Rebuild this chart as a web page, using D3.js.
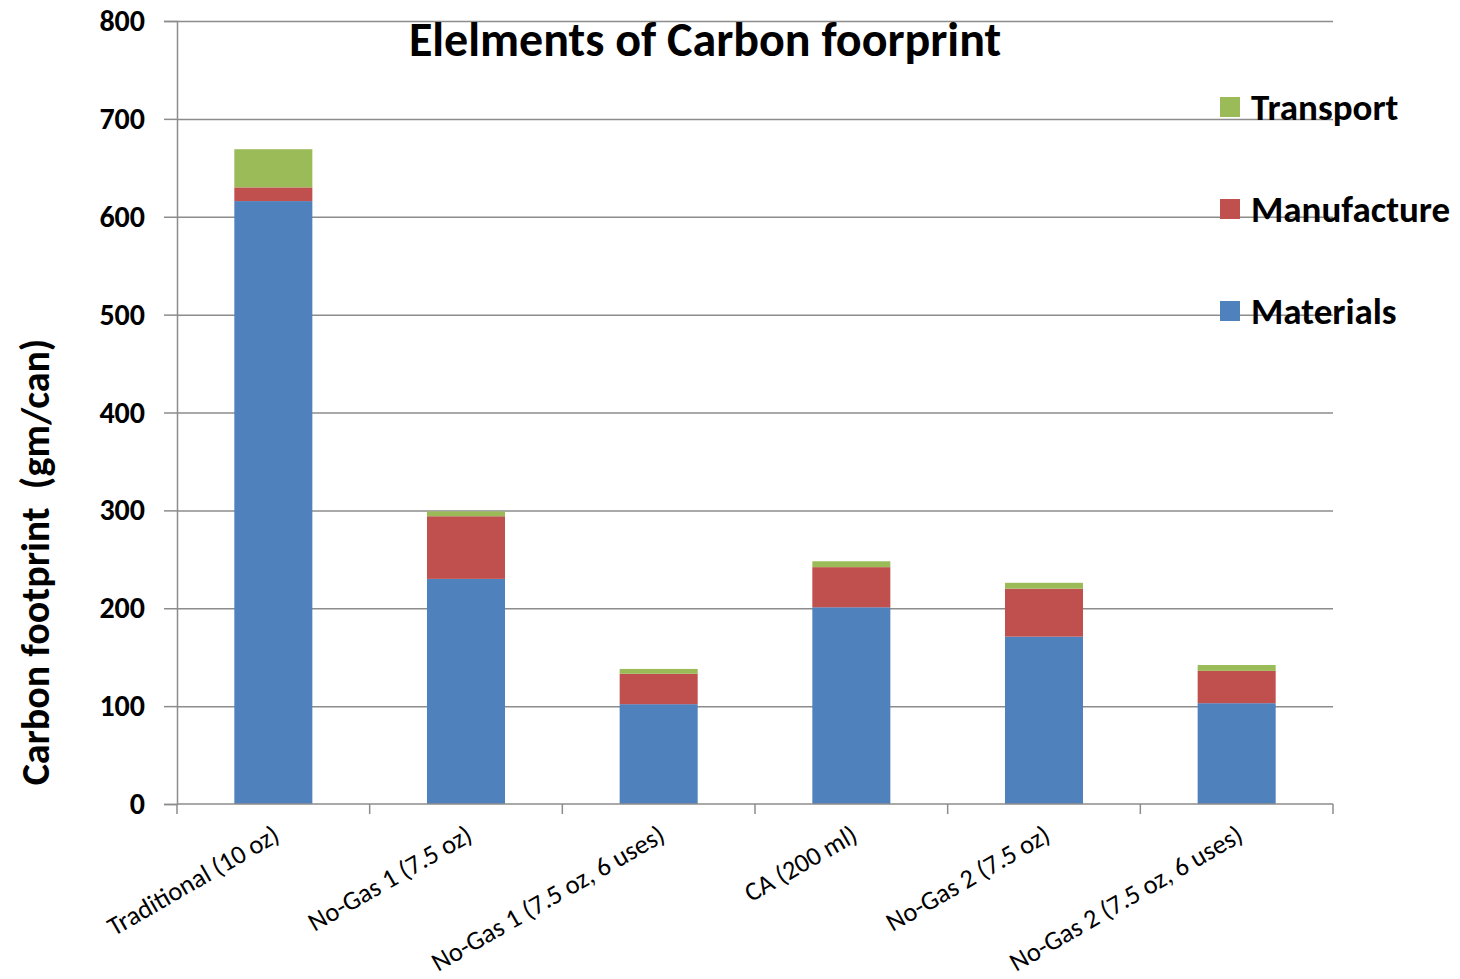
<!DOCTYPE html>
<html>
<head>
<meta charset="utf-8">
<script src="https://cdn.jsdelivr.net/npm/d3@7.9.0/dist/d3.min.js"></script>
<style>
  body { margin: 0; background: #fff; }
  svg { display: block; font-family: Carlito, "Open Sans", "Noto Sans", sans-serif; }
  .grid line { stroke: #8c8c8c; stroke-width: 1.5; }
  .grid path { display: none; }
</style>
</head>
<body>
<div id="chart"></div>
<script>
// chart values
const categories = [
  'Traditional (10 oz)',
  'No-Gas 1 (7.5 oz)',
  'No-Gas 1 (7.5 oz, 6 uses)',
  'CA (200 ml)',
  'No-Gas 2 (7.5 oz)',
  'No-Gas 2 (7.5 oz, 6 uses)'
];
const materials = [616, 230, 102, 201, 171, 103];
const manufacture = [14, 64, 31, 41, 49, 33];
const transport = [39, 5, 5, 6, 6, 6];
const seriesNames = ['Materials', 'Manufacture', 'Transport'];
const seriesColors = ['#4f81bd', '#c0504d', '#9bbb59'];
const yTicks = [0, 100, 200, 300, 400, 500, 600, 700, 800];

const width = 1460, height = 979;
const plot = { left: 177, right: 1333, top: 21, bottom: 804 };

const rows = categories.map((c, i) => ({
  category: c,
  Materials: materials[i],
  Manufacture: manufacture[i],
  Transport: transport[i]
}));

const stacked = d3.stack().keys(seriesNames)(rows);

const svg = d3.select('#chart').append('svg')
  .attr('width', width)
  .attr('height', height);

const x = d3.scaleBand()
  .domain(categories)
  .range([plot.left, plot.right])
  .paddingInner(0.595)
  .paddingOuter(0.2975);

const y = d3.scaleLinear()
  .domain([0, 800])
  .range([plot.bottom, plot.top]);

const color = d3.scaleOrdinal().domain(seriesNames).range(seriesColors);

// Gridlines
svg.append('g')
  .attr('class', 'grid')
  .attr('transform', `translate(${plot.left},0)`)
  .call(d3.axisLeft(y).tickValues(yTicks.slice(1)).tickFormat('').tickSize(-(plot.right - plot.left)));

// Bars
svg.append('g')
  .selectAll('g')
  .data(stacked)
  .join('g')
  .attr('fill', d => color(d.key))
  .selectAll('rect')
  .data(d => d)
  .join('rect')
  .attr('x', d => x(d.data.category))
  .attr('width', x.bandwidth())
  .attr('y', d => y(d[1]))
  .attr('height', d => y(d[0]) - y(d[1]));

// Y axis
const yAxis = svg.append('g')
  .attr('transform', `translate(${plot.left},0)`)
  .call(d3.axisLeft(y).tickValues(yTicks).tickSize(13).tickPadding(19));
yAxis.select('.domain').attr('stroke', '#8c8c8c').attr('stroke-width', 1.5);
yAxis.selectAll('.tick line').attr('stroke', '#8c8c8c').attr('stroke-width', 1.5);
yAxis.selectAll('.tick text')
  .attr('font-size', 30)
  .attr('font-weight', 'bold')
  .attr('fill', '#000')
  .style('font-family', 'Carlito, "Open Sans", sans-serif');

// X axis line and ticks at category boundaries
const step = x.step();
const boundaries = d3.range(categories.length + 1).map(i => plot.left + i * step);
const xAxis = svg.append('g');
xAxis.append('line')
  .attr('x1', plot.left).attr('x2', plot.right)
  .attr('y1', plot.bottom).attr('y2', plot.bottom)
  .attr('stroke', '#8c8c8c').attr('stroke-width', 1.5);
xAxis.selectAll('line.tick')
  .data(boundaries)
  .join('line')
  .attr('class', 'tick')
  .attr('x1', d => d).attr('x2', d => d)
  .attr('y1', plot.bottom).attr('y2', plot.bottom + 10)
  .attr('stroke', '#8c8c8c').attr('stroke-width', 1.5);

xAxis.selectAll('text')
  .data(categories)
  .join('text')
  .attr('transform', d => `translate(${x(d) + x.bandwidth() / 2 + 8},${plot.bottom + 36}) rotate(-30)`)
  .attr('text-anchor', 'end')
  .attr('font-size', 26.5)
  .attr('fill', '#000')
  .text(d => d);

// Title
svg.append('text')
  .attr('x', 705)
  .attr('y', 56)
  .attr('text-anchor', 'middle')
  .attr('font-size', 48)
  .attr('font-weight', 'bold')
  .text('Elelments of Carbon foorprint');

// Y axis title
svg.append('text')
  .attr('transform', 'translate(49,562) rotate(-90)')
  .attr('text-anchor', 'middle')
  .attr('font-size', 40)
  .attr('font-weight', 'bold')
  .style('white-space', 'pre')
  .text('Carbon footprint  (gm/can)');

// Legend (top to bottom: Transport, Manufacture, Materials)
const legendItems = seriesNames.slice().reverse();
const legend = svg.append('g')
  .selectAll('g')
  .data(legendItems)
  .join('g')
  .attr('transform', (d, i) => `translate(1220,${107 + i * 102})`);
legend.append('rect')
  .attr('x', 0).attr('y', -10)
  .attr('width', 20).attr('height', 20)
  .attr('fill', d => color(d));
legend.append('text')
  .attr('x', 31)
  .attr('y', 0)
  .attr('dy', '0.35em')
  .attr('font-size', 37)
  .attr('font-weight', 'bold')
  .text(d => d);
</script>
</body>
</html>
